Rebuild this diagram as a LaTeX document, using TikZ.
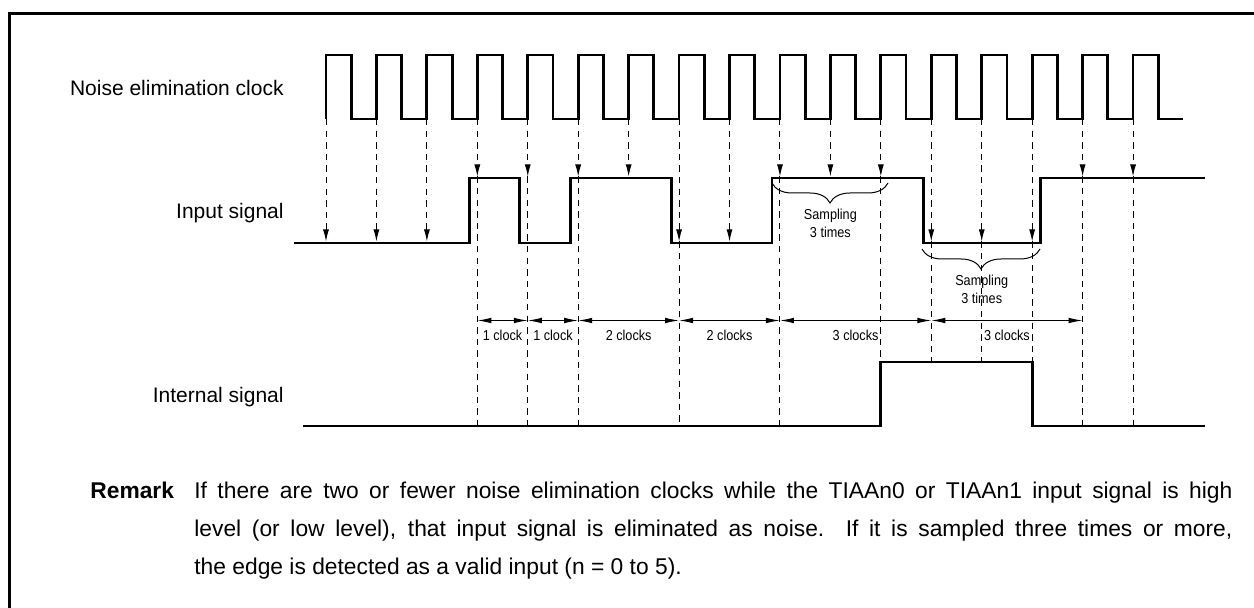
\documentclass[tikz,border=0pt]{standalone}
\usepackage{fontspec}
\setmainfont{Liberation Sans}
\newfontfamily\narrowsf[FakeStretch=0.88]{Liberation Sans}
\usetikzlibrary{arrows.meta, decorations.pathreplacing}

\tikzset{
  wave/.style={line width=1.4pt, line join=miter},
  sample/.style={line width=0.5pt, dash pattern=on 3.2pt off 2.6pt},
  tiptop/.style={-{Latex[length=6pt,width=3pt]}},
  span/.style={line width=0.5pt, {Latex[length=7pt,width=2.8pt]}-{Latex[length=7pt,width=2.8pt]}},
  siglabel/.style={anchor=base east, inner sep=0pt, font=\fontsize{10.5}{12}\selectfont},
  cntlabel/.style={inner sep=0pt, font=\narrowsf\fontsize{7.2}{8.8}\selectfont},
  sampbrace/.style={line width=0.5pt, decorate, decoration={brace, mirror, amplitude=10pt}},
}

\begin{document}
\begin{tikzpicture}[x=0.5pt, y=-0.5pt]
\useasboundingbox (0,0) rectangle (1254,608);

% frame
\draw[line width=1.5pt] (9.5,608) -- (9.5,13.5) -- (1254,13.5);

% signal levels
\coordinate (inhi)  at (0,176.5);
\coordinate (inlo)  at (0,241.5);
\coordinate (inthi) at (0,362);
\coordinate (intlo) at (0,426);
\coordinate (dimy)  at (0,320.5);

% rising edges of the clock
\foreach \k in {0,...,16}
  \coordinate (c\k) at ({326+50.44*\k},119);

% labels
\node[siglabel] (clklbl) at (284,95.5)  {Noise elimination clock};
\node[siglabel] (inlbl)  at (284,219)   {Input signal};
\node[siglabel] (intlbl) at (284,402.5) {Internal signal};

% waveforms
\draw[wave] (326,119) \foreach \k in {0,...,16} {-- ++(0,-64) -- ++(25.22,0) -- ++(0,64) -- ++(25.22,0)};
\draw[wave] (294,243) -- (469.3,243) |- (519.8,178) |- (570.2,243) |- (671.1,178)
  |- (772,243) |- (923.3,178) |- (1040.2,243) |- (1205,178);
\draw[wave] (303,426) -- (880.8,426) |- (1032.2,362) |- (1205,426);

% sampling
\foreach \k in {0,1,2,7,8,12,13,14}
  \draw[sample, tiptop] (c\k) -- (c\k |- inlo);
\foreach \k in {3,4,5,6,9,10,11,15,16}
  \draw[sample, tiptop] (c\k) -- (c\k |- inhi);
\foreach \k/\top/\bot in {3/inhi/intlo, 4/inhi/intlo, 5/inhi/intlo, 7/inlo/intlo,
    9/inhi/intlo, 11/inhi/intlo, 12/inlo/inthi, 13/inlo/inthi, 14/inlo/intlo,
    15/inhi/intlo, 16/inhi/intlo}
  \draw[sample] (c\k |- \top) -- (c\k |- \bot);

% clock counts
\foreach \a/\b/\txt in {3/4/1 clock, 4/5/1 clock, 5/7/2 clocks, 7/9/2 clocks,
    9/12/3 clocks, 12/15/3 clocks}
  \draw[span] (c\a |- dimy) -- node[cntlabel, yshift=-7.5pt] {\txt} (c\b |- dimy);

% braces
\draw[sampbrace] (772,183) -- (888,183);
\node[cntlabel, align=center, anchor=north] (samphi) at (830.4,209) {Sampling\\3 times};
\draw[sampbrace] (922,249) -- (1040,249);
\node[cntlabel, align=center, anchor=north] (samplo) at (981.7,275) {Sampling\\3 times};

% remark
\node[anchor=north west, inner sep=0pt, font=\fontsize{11.4}{19}\selectfont] (remark) at (90,482)
  {\makebox[52pt][l]{\bfseries Remark}\parbox[t]{519pt}{If there are two or fewer noise
  elimination clocks while the TIAAn0 or TIAAn1 input signal is high\linebreak
  level (or low level), that input signal is eliminated as noise.  If it is sampled
  three times or more,\linebreak the edge is detected as a valid input (n = 0 to 5).}};
\end{tikzpicture}
\end{document}
